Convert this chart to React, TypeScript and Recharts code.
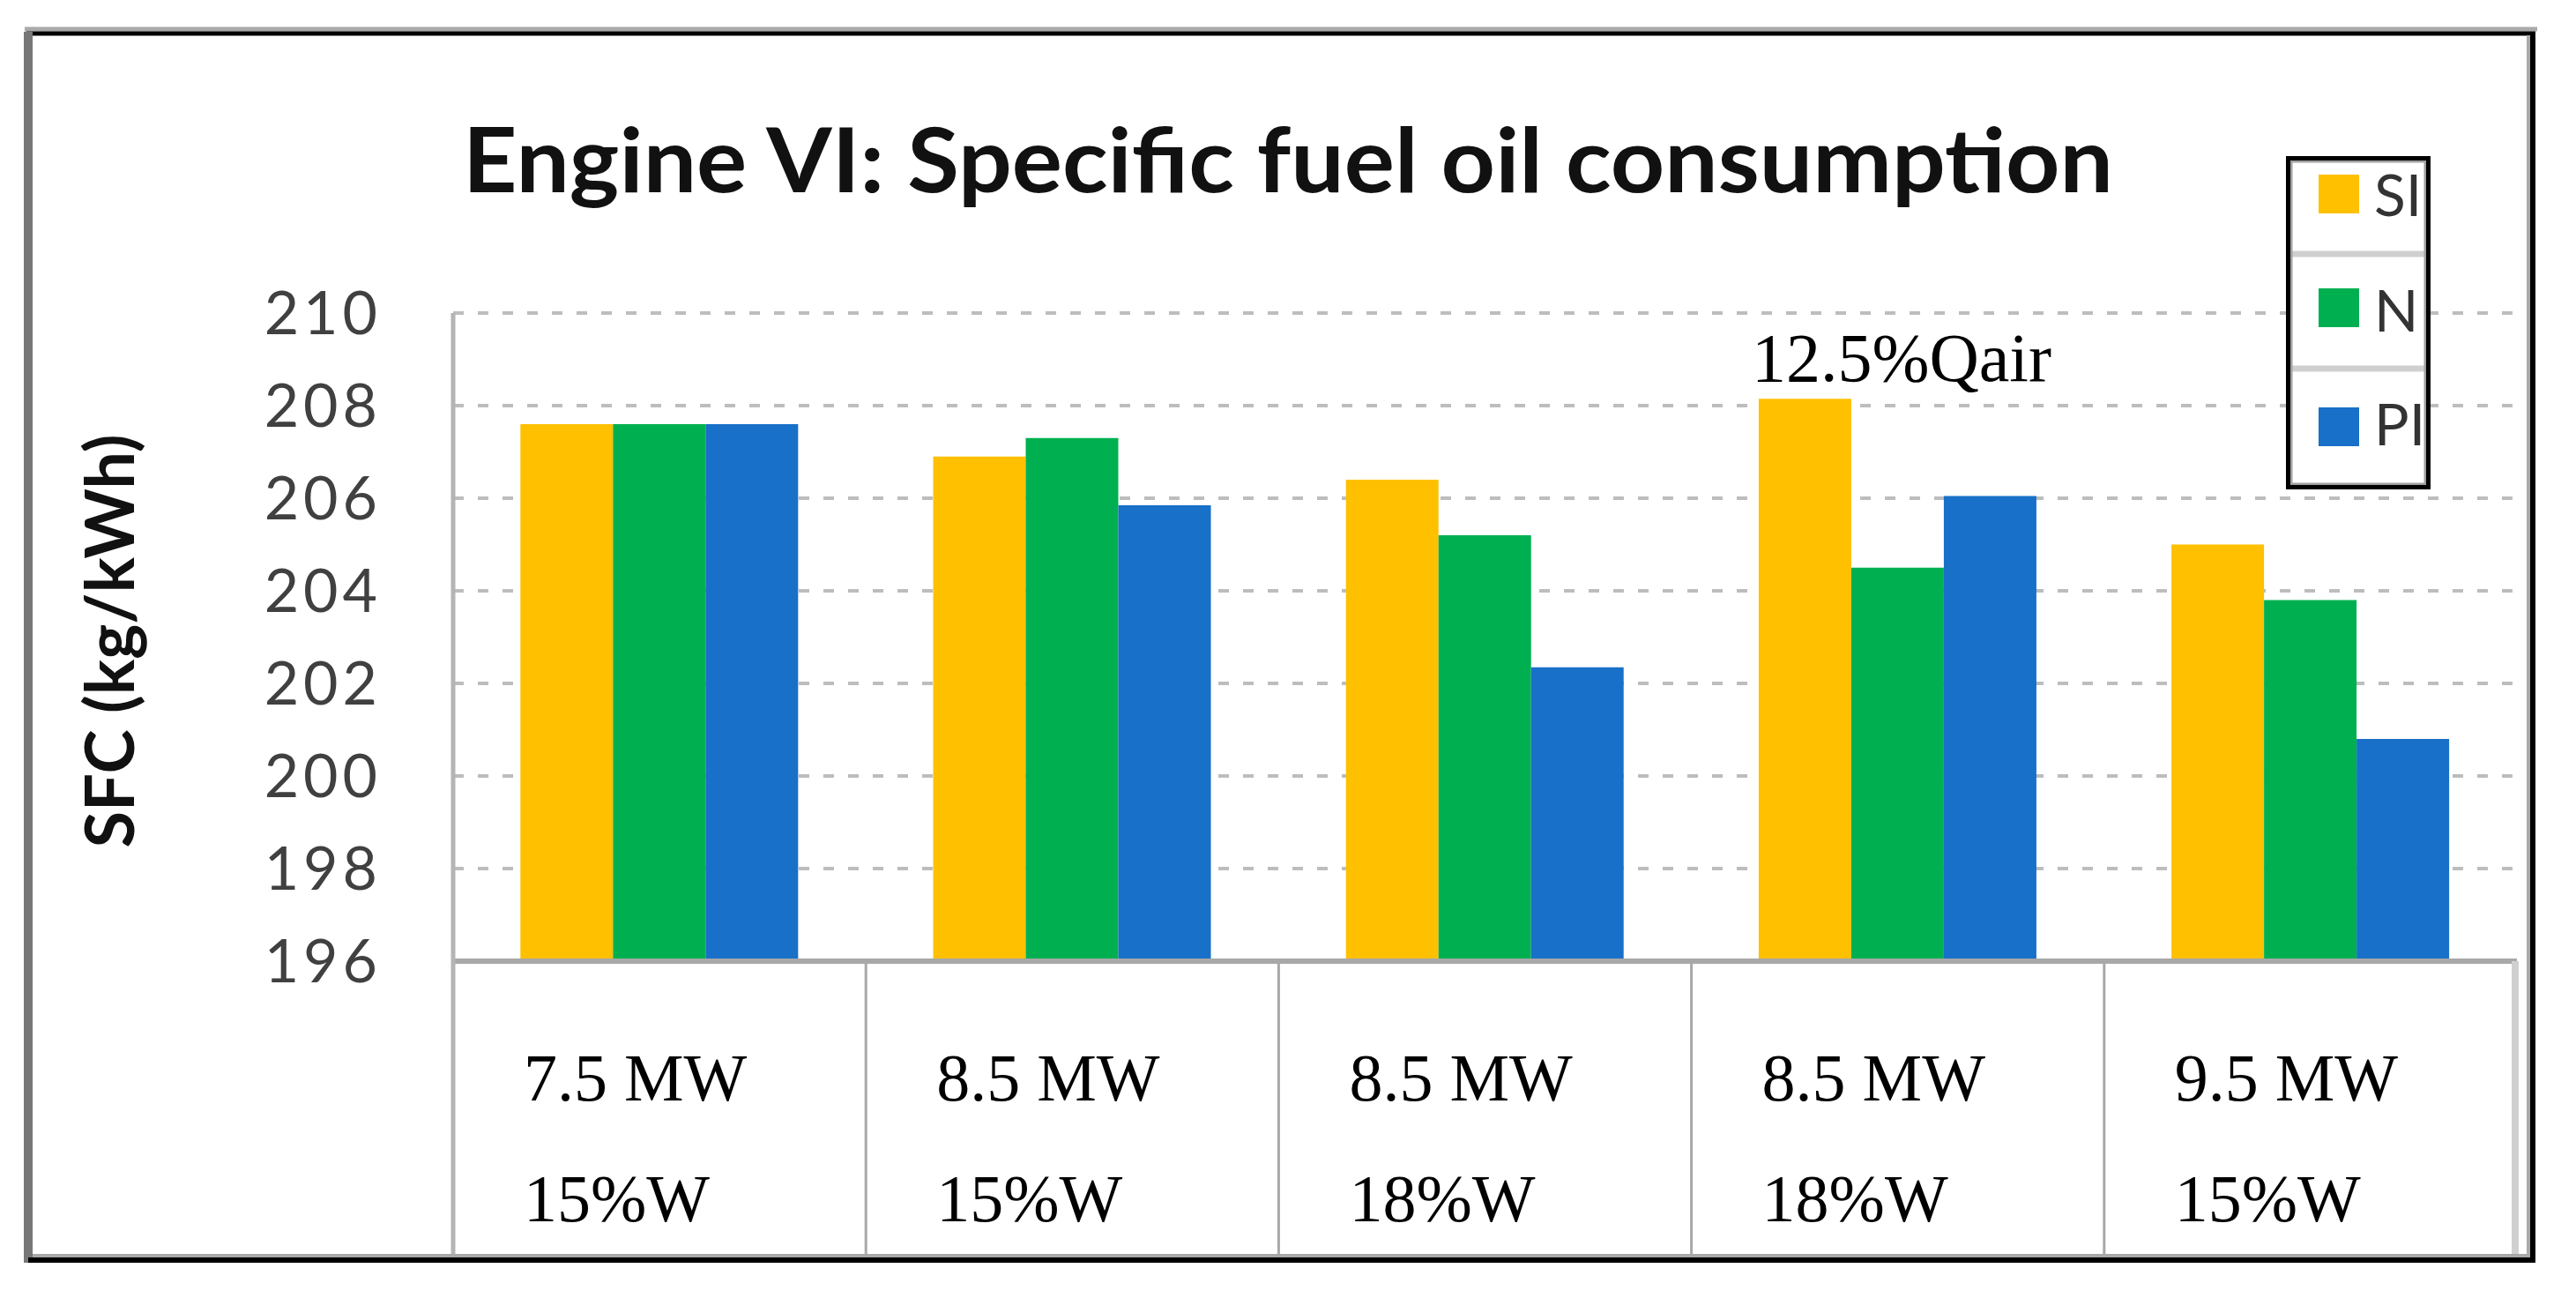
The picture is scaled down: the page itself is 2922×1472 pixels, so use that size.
import React from 'react';
import { BarChart, Bar, XAxis, YAxis, CartesianGrid, Legend, LabelList } from 'recharts';

// ---- data ----
const powerLabels = ['7.5 MW', '8.5 MW', '8.5 MW', '8.5 MW', '9.5 MW'];
const waterLabels = ['15%W', '15%W', '18%W', '18%W', '15%W'];
const siValues = [207.6, 206.9, 206.4, 208.15, 205.0];
const nValues = [207.6, 207.3, 205.2, 204.5, 203.8];
const piValues = [207.6, 205.85, 202.35, 206.05, 200.8];
const notes = ['', '', '', '12.5%Qair', ''];
const yTicks = [196, 198, 200, 202, 204, 206, 208, 210];
const seriesKeys = ['si', 'n', 'pi'];
const seriesNames = ['SI', 'N', 'PI'];
const seriesColors = ['#FFC000', '#00B050', '#1870C8'];
const chartTitle = 'Engine VI: Specific fuel oil consumption';
const yTitle = 'SFC (kg/kWh)';

const data = powerLabels.map((p, i) => ({
  cat: `${p} ${waterLabels[i]}`,
  power: p,
  water: waterLabels[i],
  si: siValues[i],
  n: nValues[i],
  pi: piValues[i],
  note: notes[i],
}));

// ---- layout ----
const W = 2922;
const H = 1472;
const PLOT_L = 514;
const PLOT_R = 2855;
const PLOT_T = 355;
const PLOT_B = 1090;
const TABLE_B = 1424;
const YAXIS_W = 150;
const XAXIS_H = TABLE_B - PLOT_B;

const CategoryTick = (props: any) => {
  const { x, y, payload } = props;
  const band = (PLOT_R - PLOT_L) / powerLabels.length;
  const i = payload.index;
  const left = x - band / 2;
  const d = data[i] || { power: '', water: '' };
  return (
    <g>
      {i > 0 && (
        <line x1={left} x2={left} y1={y} y2={TABLE_B} stroke="#a8a8a8" strokeWidth={3} />
      )}
      <text x={left + 80} y={y + 158} fontFamily="'Liberation Serif', 'Times New Roman', serif" fontSize={76} fill="#000">
        {d.power}
      </text>
      <text x={left + 80} y={y + 295} fontFamily="'Liberation Serif', 'Times New Roman', serif" fontSize={76} fill="#000">
        {d.water}
      </text>
    </g>
  );
};

const NoteLabel = (props: any) => {
  const { x, y, value } = props;
  if (!value) return null;
  return (
    <text x={x - 8} y={y - 20} fontFamily="'Liberation Serif', 'Times New Roman', serif" fontSize={78} fill="#000">
      {value}
    </text>
  );
};

const LegendBox = () => {
  const bw = 164;
  const bh = 378;
  const swatchY = [21, 150, 285];
  const textY = [68, 199, 328];
  return (
    <svg width={bw} height={bh} style={{ display: 'block' }}>
      <rect x={0} y={0} width={bw} height={bh} fill="#fff" />
      <line x1={6} x2={158} y1={111} y2={111} stroke="#cfcfcf" strokeWidth={7} />
      <line x1={6} x2={158} y1={241} y2={241} stroke="#cfcfcf" strokeWidth={7} />
      {seriesNames.map((name, i) => (
        <g key={name}>
          <rect x={37} y={swatchY[i]} width={46} height={44} fill={seriesColors[i]} />
          <text
            x={100}
            y={textY[i]}
            fontFamily="Lato, 'Open Sans', sans-serif"
            fontSize={66}
            fill="#333"
          >
            {name}
          </text>
        </g>
      ))}
      <rect x={6} y={6} width={bw - 12} height={bh - 12} fill="none" stroke="#a0a0a0" strokeWidth={3} />
      <rect x={2.5} y={2.5} width={bw - 5} height={bh - 5} fill="none" stroke="#000" strokeWidth={5} />
    </svg>
  );
};

export default function App() {
  return (
    <div style={{ position: 'absolute', left: 0, top: 0, width: W, height: H, background: '#fff' }}>
      <BarChart
        width={W}
        height={H}
        data={data}
        margin={{ top: PLOT_T, right: W - PLOT_R, left: PLOT_L - YAXIS_W, bottom: H - PLOT_B - XAXIS_H }}
        barCategoryGap="16.3%"
        barGap={0}
      >
        <CartesianGrid
          vertical={false}
          horizontal={true}
          stroke="#bdbdbd"
          strokeWidth={4}
          strokeDasharray="12 16"
        />
        <XAxis
          dataKey="cat"
          height={XAXIS_H}
          interval={0}
          tickLine={false}
          tickSize={0}
          tickMargin={0}
          axisLine={{ stroke: '#a8a8a8', strokeWidth: 6 }}
          tick={<CategoryTick />}
        />
        <YAxis
          width={YAXIS_W}
          domain={[196, 210]}
          ticks={yTicks}
          interval={0}
          allowDataOverflow
          tickLine={false}
          tickSize={0}
          tickMargin={81}
          axisLine={{ stroke: '#b4b4b4', strokeWidth: 5 }}
          tick={{ fontFamily: "Lato, 'Open Sans', sans-serif", fontSize: 68, fill: '#404040', letterSpacing: 5 }}
        />
        <Legend
          layout="horizontal"
          verticalAlign="middle"
          align="center"
          content={<LegendBox />}
          wrapperStyle={{ position: 'absolute', left: 2593, top: 177, width: 164, height: 378 }}
        />
        {seriesKeys.map((k, i) => (
          <Bar key={k} dataKey={k} name={seriesNames[i]} fill={seriesColors[i]} isAnimationActive={false}>
            {k === 'si' && <LabelList dataKey="note" content={<NoteLabel />} />}
          </Bar>
        ))}
      </BarChart>
      <svg
        width={W}
        height={H}
        style={{ position: 'absolute', left: 0, top: 0, pointerEvents: 'none' }}
      >
        <text
          x={525}
          y={218}
          fontFamily="Lato, 'Open Sans', sans-serif"
          fontWeight="bold"
          fontSize={101}
          fill="#111"
          textLength={1872}
          lengthAdjust="spacingAndGlyphs"
        >
          {chartTitle}
        </text>
        <text
          x={0}
          y={0}
          transform="translate(152, 727) rotate(-90)"
          textAnchor="middle"
          fontFamily="Lato, 'Open Sans', sans-serif"
          fontWeight="bold"
          fontSize={76}
          fill="#111"
          textLength={469}
          lengthAdjust="spacingAndGlyphs"
        >
          {yTitle}
        </text>
        {/* table edges */}
        <line x1={PLOT_L} x2={PLOT_L} y1={PLOT_B} y2={TABLE_B} stroke="#b4b4b4" strokeWidth={5} />
        <line x1={PLOT_R - 2} x2={PLOT_R - 2} y1={PLOT_B} y2={TABLE_B} stroke="#d0d0d0" strokeWidth={8} />
        <line x1={37} x2={2868} y1={1424} y2={1424} stroke="#a8a8a8" strokeWidth={4} />
        {/* outer frame */}
        <line x1={28} x2={2878} y1={33} y2={33} stroke="#aaaaaa" strokeWidth={5} />
        <line x1={30} x2={2876} y1={38} y2={38} stroke="#000" strokeWidth={5} />
        <line x1={32} x2={32} y1={36} y2={1432} stroke="#777777" strokeWidth={10} />
        <line x1={2868} x2={2868} y1={40} y2={1428} stroke="#aaaaaa" strokeWidth={4} />
        <line x1={2873} x2={2873} y1={36} y2={1432} stroke="#000" strokeWidth={6} />
        <line x1={32} x2={2876} y1={1429} y2={1429} stroke="#000" strokeWidth={6} />
      </svg>
    </div>
  );
}
